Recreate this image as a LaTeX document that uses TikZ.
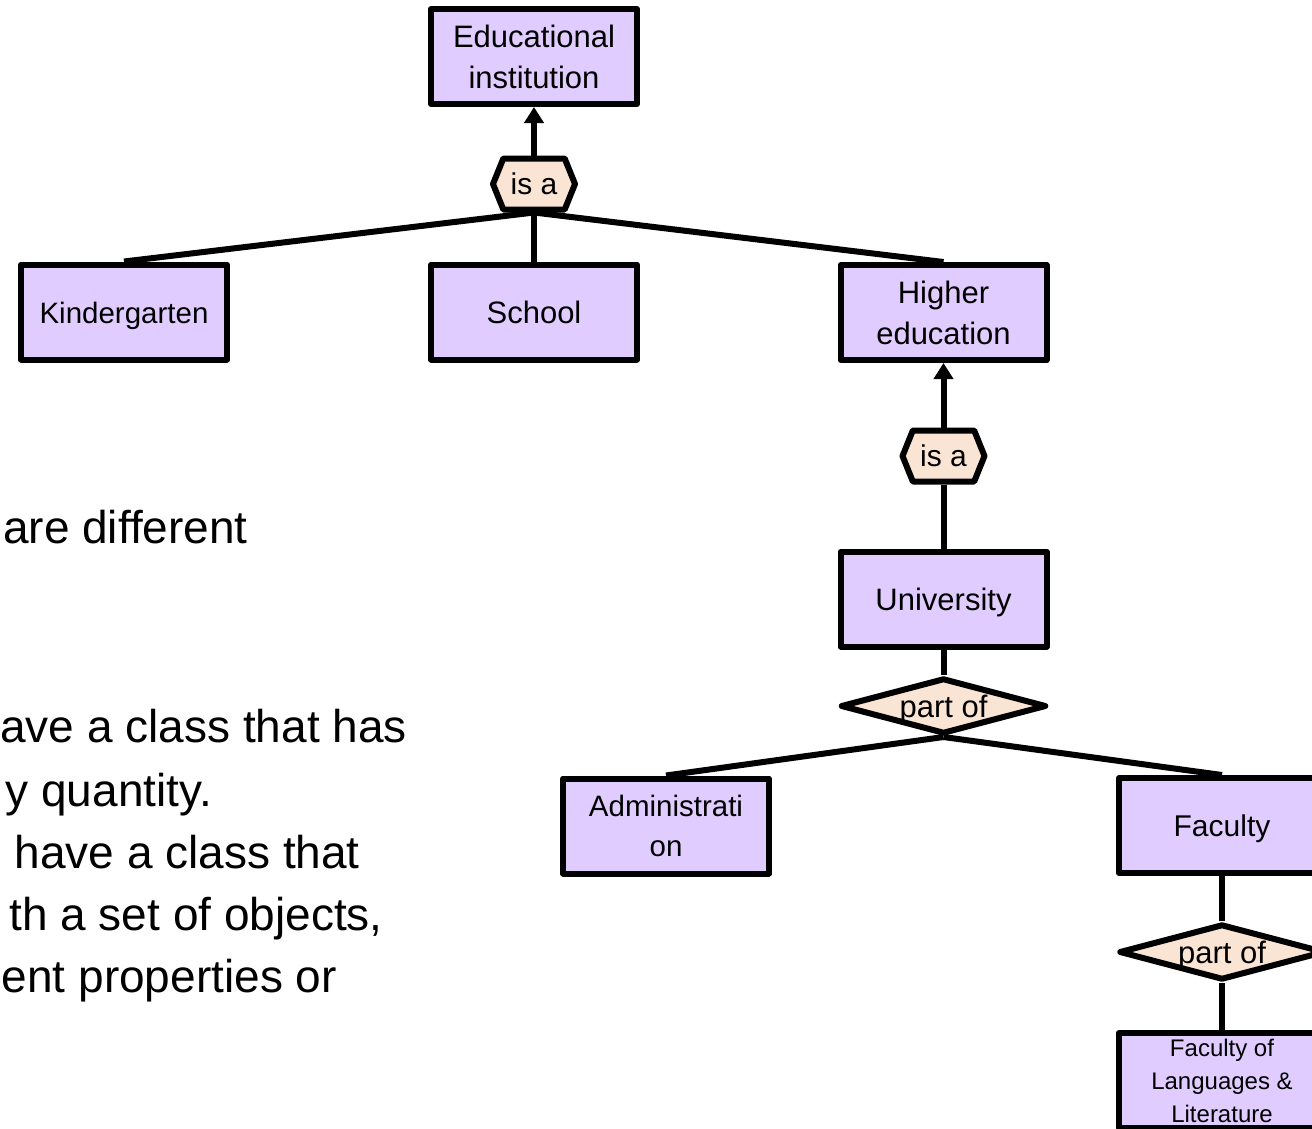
\documentclass[tikz,border=0pt]{standalone}
\usepackage{fontspec}
\setmainfont{Liberation Sans}
\usetikzlibrary{shapes.geometric,shapes.symbols,arrows.meta}
\definecolor{boxfill}{RGB}{224,204,255}
\definecolor{relfill}{RGB}{250,228,212}
\begin{document}
\begin{tikzpicture}[x=1pt,y=-1pt, line join=round,
  box/.style={draw=black, line width=6pt, fill=boxfill, rectangle, minimum width=206pt, minimum height=95pt, inner sep=0pt, align=center, font=\fontsize{31}{41}\selectfont},
  oneline/.style={text height=25pt, text depth=3pt},
  isa/.style={signal, signal to=east and west, signal pointer angle=136, draw=black, line width=6pt, fill=relfill, minimum width=82pt, minimum height=51pt, inner sep=0pt, font=\fontsize{30}{36}\selectfont},
  partof/.style={diamond, aspect=3.68, draw=black, line width=6pt, fill=relfill, minimum width=206pt, minimum height=56pt, inner sep=0pt, font=\fontsize{31}{36}\selectfont, text height=25pt, text depth=2pt},
  conn/.style={line width=6pt},
  isarrow/.style={conn, -{Triangle[width=19pt,length=16pt]}},
  bodytext/.style={anchor=base east, inner sep=0pt, font=\fontsize{46}{62}\selectfont}]
\useasboundingbox (0,0) rectangle (1312,1128);
\clip (0,0) rectangle (1312,1128);

% left body text (clipped at the left edge)
\node[bodytext] (t1) at (248,543) {are different};
\node[bodytext] (t2) at (407,742) {ave a class that has};
\node[bodytext] (t3) at (212,806) {y quantity.};
\node[bodytext] (t4) at (360,868) {have a class that};
\node[bodytext] (t5) at (383,930) {th a set of objects,};
\node[bodytext] (t6) at (337,992) {ent properties or};

% nodes
\node[box] (ei) at (534,56.5) {Educational\\institution};
\node[isa] (h1) at (534,184) {is a};
\node[box, oneline, font=\fontsize{29.5}{38}\selectfont] (kg) at (124,312) {Kindergarten};
\node[box, oneline] (sc) at (534,312) {School};
\node[box] (he) at (943.5,312.5) {Higher\\education};
\node[isa] (h2) at (943.5,456) {is a};
\node[box, oneline] (un) at (943.5,599) {University};
\node[partof] (d1) at (943.5,706) {part of};
\node[box, font=\fontsize{29.5}{40}\selectfont] (ad) at (666,826) {Administrati\\on};
\node[box, oneline, font=\fontsize{30}{40}\selectfont] (fa) at (1222,825.5) {Faculty};
\node[partof] (d2) at (1222,952) {part of};
\node[box, font=\fontsize{24}{33}\selectfont] (fl) at (1222,1080.5) {Faculty of\\Languages \&\\Literature};

% connectors
\draw[isarrow] (h1.north) -- (ei.south);
\draw[conn] (kg.north) -- (h1.south);
\draw[conn] (sc.north) -- (h1.south);
\draw[conn] (he.north) -- (h1.south);
\draw[isarrow] (h2.north) -- (he.south);
\draw[conn] (un.north) -- (h2.south);
\draw[conn] (un.south) -- (d1.north);
\draw[conn] (d1.south) -- (ad.north);
\draw[conn] (d1.south) -- (fa.north);
\draw[conn] (fa.south) -- (d2.north);
\draw[conn] (d2.south) -- (fl.north);
\end{tikzpicture}
\end{document}
